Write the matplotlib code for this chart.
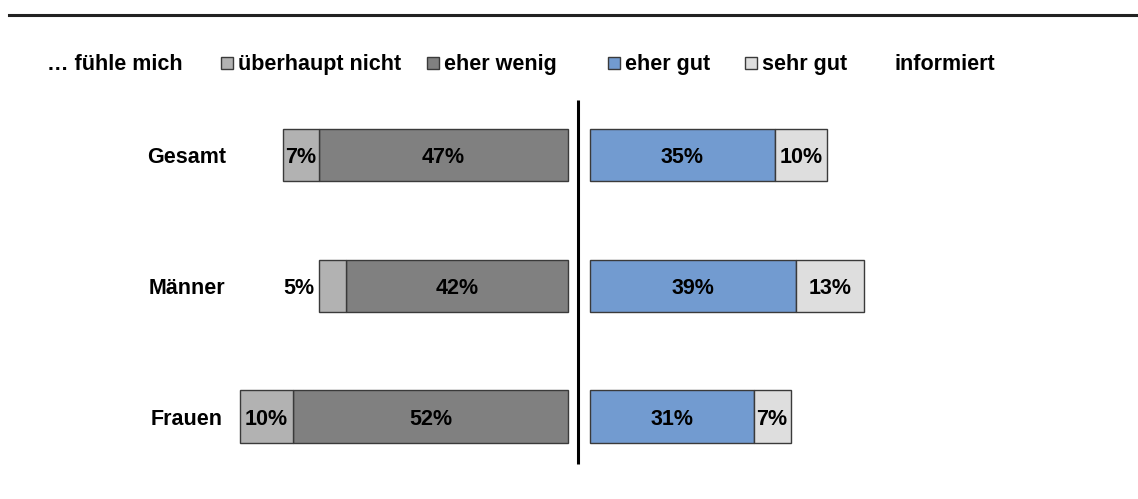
import matplotlib
matplotlib.use('Agg')
import matplotlib.pyplot as plt
from matplotlib.patches import Rectangle
from matplotlib.lines import Line2D
import numpy as np

# data (percent)
categories = ['Gesamt', 'Männer', 'Frauen']
ueberhaupt_nicht = [7, 5, 10]
eher_wenig = [47, 42, 52]
eher_gut = [35, 39, 31]
sehr_gut = [10, 13, 7]

legend_labels = ['überhaupt nicht', 'eher wenig', 'eher gut', 'sehr gut']
colors = ['#b2b2b2', '#808080', '#729bd0', '#dedede']
edge = '#3a3a3a'

plt.rcParams['font.family'] = ['Liberation Sans', 'DejaVu Sans']
plt.rcParams['font.weight'] = 'bold'
fs = 15.5

W, H = 1138, 499
fig = plt.figure(figsize=(W / 100, H / 100), dpi=100)
ax = fig.add_axes([0, 0, 1, 1])
ax.set_xlim(-109.6, 105.9)
ax.set_ylim(2.630, -1.185)
ax.axis('off')

gap = 2.1
y = np.arange(len(categories))
un = np.array(ueberhaupt_nicht)
ew = np.array(eher_wenig)
eg = np.array(eher_gut)
sg = np.array(sehr_gut)
h = 0.40

# left side grows to the left from the centre line
ax.barh(y, -ew, left=-gap, height=h, color=colors[1], edgecolor=edge, linewidth=1)
ax.barh(y, -un, left=-gap - ew, height=h, color=colors[0], edgecolor=edge, linewidth=1)
# right side
ax.barh(y, eg, left=gap, height=h, color=colors[2], edgecolor=edge, linewidth=1)
ax.barh(y, sg, left=gap + eg, height=h, color=colors[3], edgecolor=edge, linewidth=1)

def put(x0, v, yy):
    if v < 6:
        # too narrow, label goes outside on the left
        ax.text(x0 - 1.0, yy, f'{v}%', ha='right', va='center_baseline', fontsize=fs, fontweight='bold')
    else:
        ax.text(x0 + v / 2, yy, f'{v}%', ha='center', va='center_baseline', fontsize=fs, fontweight='bold')

for i in range(len(categories)):
    put(-gap - ew[i], ew[i], y[i])
    put(-gap - ew[i] - un[i], un[i], y[i])
    put(gap, eg[i], y[i])
    put(gap + eg[i], sg[i], y[i])
    fig.text(187 / W, 1 - (155 + 130.8 * i) / H, categories[i], ha='center', va='center_baseline',
             fontsize=fs, fontweight='bold')

# centre line
ax.plot([-0.2, -0.2], [-0.42, 2.36], color='black', linewidth=2.2, solid_capstyle='butt')

# top rule
fig.add_artist(Line2D([9 / W, 1], [1 - 15 / H, 1 - 15 / H], color='#222222', linewidth=2.2,
                      transform=fig.transFigure))

# legend row
ly = 1 - 62 / H
fig.text(47 / W, ly, '… fühle mich', ha='left', va='center_baseline', fontsize=fs, fontweight='bold')
sq_x = [221, 427, 608, 745]
for sx, lab, c in zip(sq_x, legend_labels, colors):
    fig.add_artist(Rectangle((sx / W, 1 - 69 / H), 12 / W, 12 / H, facecolor=c,
                             edgecolor=edge, linewidth=1, transform=fig.transFigure))
    fig.text((sx + 17) / W, ly, lab, ha='left', va='center_baseline', fontsize=fs, fontweight='bold')
fig.text(894 / W, ly, 'informiert', ha='left', va='center_baseline', fontsize=fs, fontweight='bold')

fig.savefig('out.png', dpi=100, facecolor='white')
